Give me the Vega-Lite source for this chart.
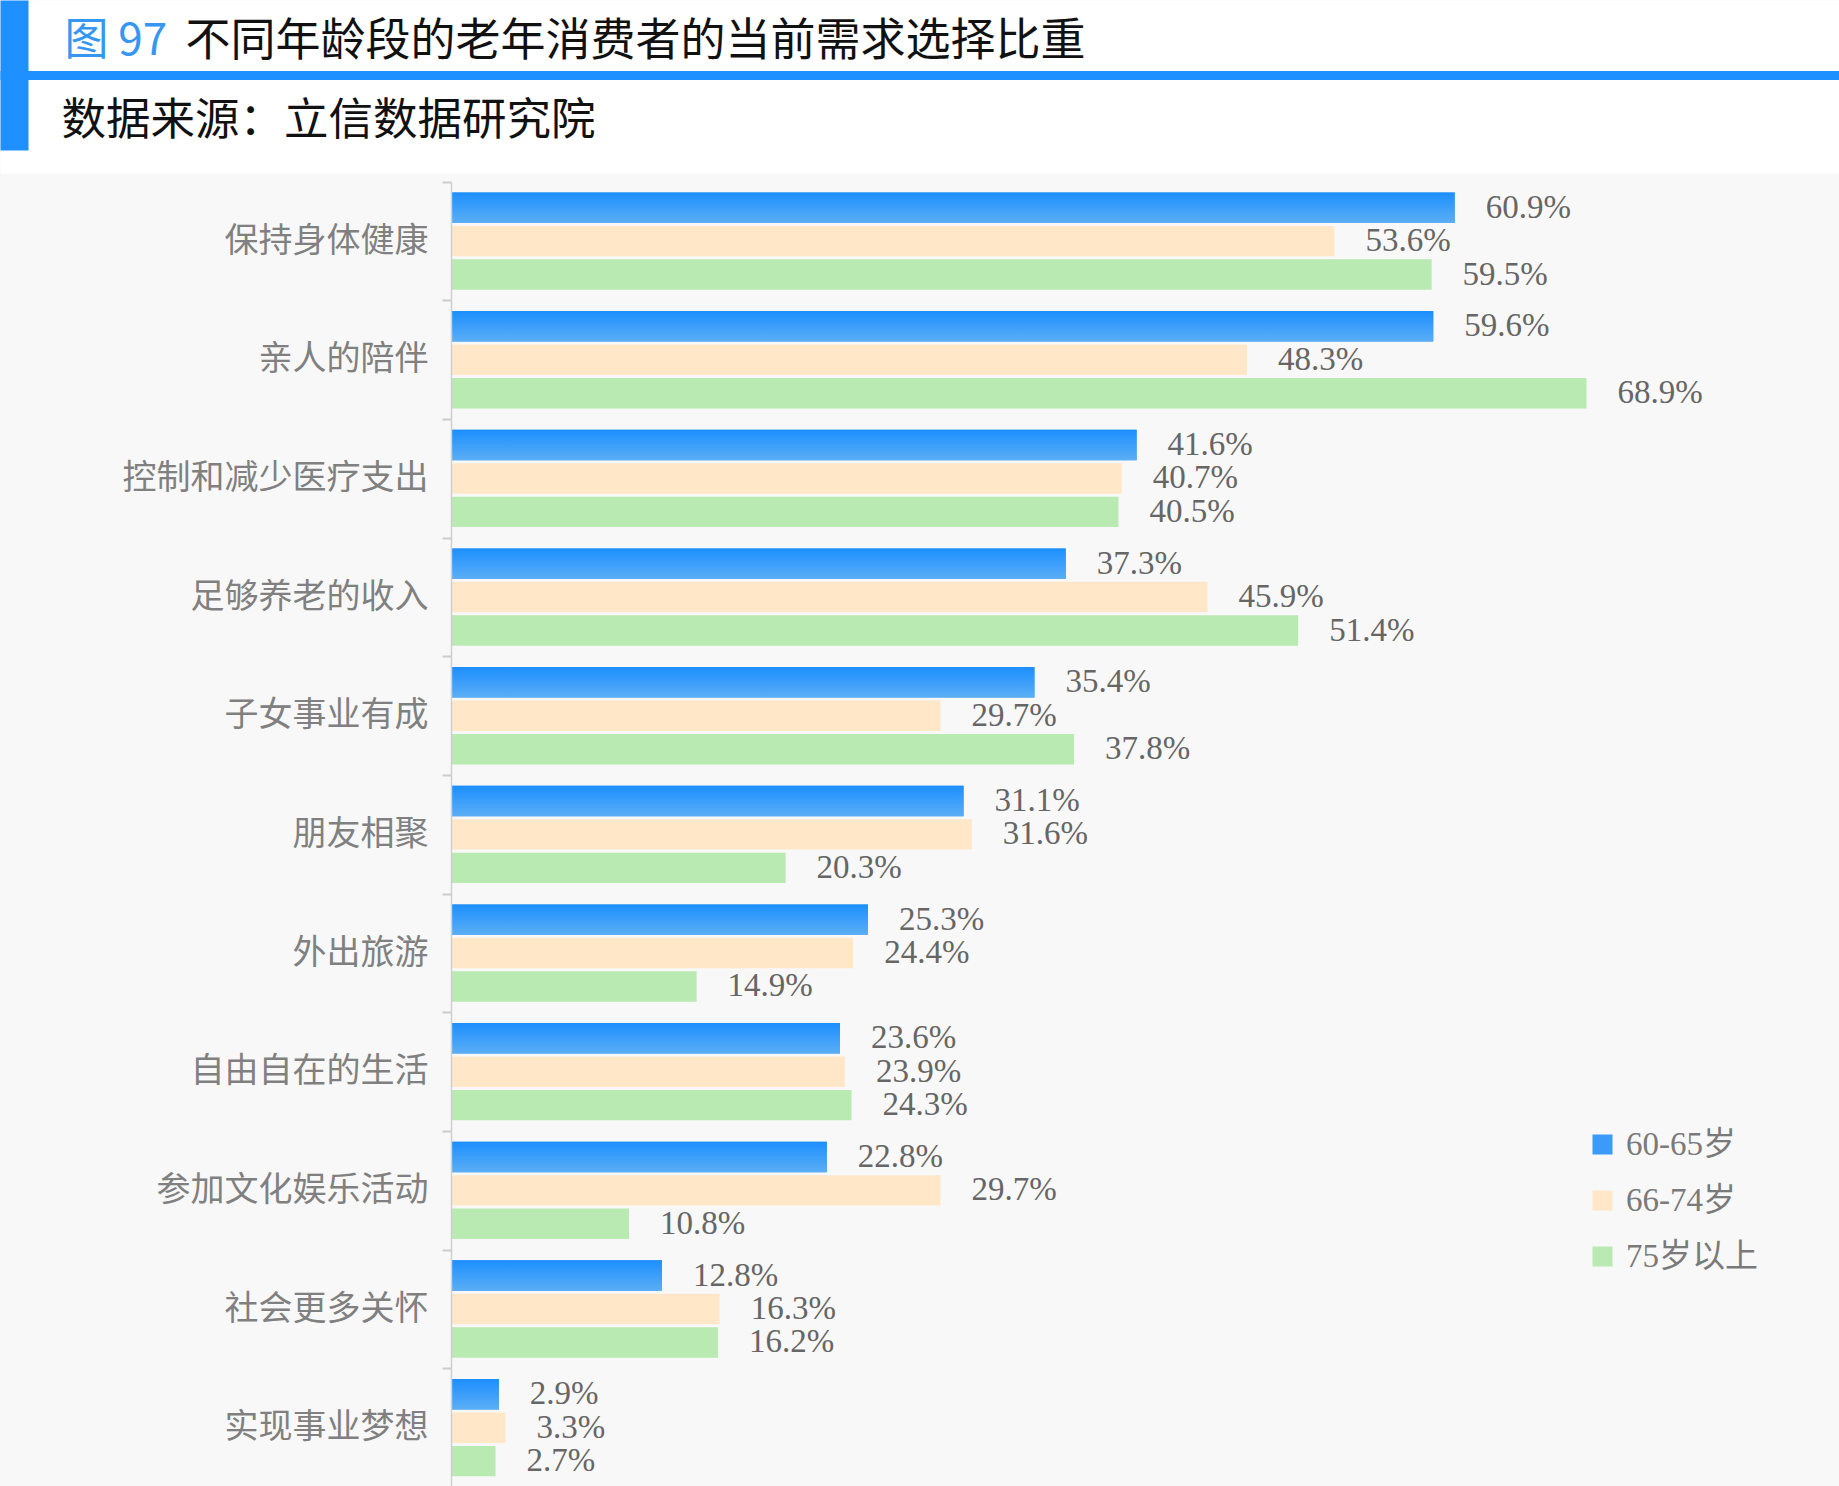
{
  "$schema": "https://vega.github.io/schema/vega-lite/v6.json",
  "autosize": {"type": "none"},
  "padding": 0,
  "width": 1839,
  "height": 1486,
  "background": "#F8F8F8",
  "config": {"view": {"stroke": null}},
  "data": {
    "values": [
      {"cat": "保持身体健康", "group": "60-65岁", "value": 0.609},
      {"cat": "保持身体健康", "group": "66-74岁", "value": 0.536},
      {"cat": "保持身体健康", "group": "75岁以上", "value": 0.595},
      {"cat": "亲人的陪伴", "group": "60-65岁", "value": 0.596},
      {"cat": "亲人的陪伴", "group": "66-74岁", "value": 0.483},
      {"cat": "亲人的陪伴", "group": "75岁以上", "value": 0.689},
      {"cat": "控制和减少医疗支出", "group": "60-65岁", "value": 0.416},
      {"cat": "控制和减少医疗支出", "group": "66-74岁", "value": 0.407},
      {"cat": "控制和减少医疗支出", "group": "75岁以上", "value": 0.405},
      {"cat": "足够养老的收入", "group": "60-65岁", "value": 0.373},
      {"cat": "足够养老的收入", "group": "66-74岁", "value": 0.459},
      {"cat": "足够养老的收入", "group": "75岁以上", "value": 0.514},
      {"cat": "子女事业有成", "group": "60-65岁", "value": 0.354},
      {"cat": "子女事业有成", "group": "66-74岁", "value": 0.297},
      {"cat": "子女事业有成", "group": "75岁以上", "value": 0.378},
      {"cat": "朋友相聚", "group": "60-65岁", "value": 0.311},
      {"cat": "朋友相聚", "group": "66-74岁", "value": 0.316},
      {"cat": "朋友相聚", "group": "75岁以上", "value": 0.203},
      {"cat": "外出旅游", "group": "60-65岁", "value": 0.253},
      {"cat": "外出旅游", "group": "66-74岁", "value": 0.244},
      {"cat": "外出旅游", "group": "75岁以上", "value": 0.149},
      {"cat": "自由自在的生活", "group": "60-65岁", "value": 0.236},
      {"cat": "自由自在的生活", "group": "66-74岁", "value": 0.239},
      {"cat": "自由自在的生活", "group": "75岁以上", "value": 0.243},
      {"cat": "参加文化娱乐活动", "group": "60-65岁", "value": 0.228},
      {"cat": "参加文化娱乐活动", "group": "66-74岁", "value": 0.297},
      {"cat": "参加文化娱乐活动", "group": "75岁以上", "value": 0.108},
      {"cat": "社会更多关怀", "group": "60-65岁", "value": 0.128},
      {"cat": "社会更多关怀", "group": "66-74岁", "value": 0.163},
      {"cat": "社会更多关怀", "group": "75岁以上", "value": 0.162},
      {"cat": "实现事业梦想", "group": "60-65岁", "value": 0.029},
      {"cat": "实现事业梦想", "group": "66-74岁", "value": 0.033},
      {"cat": "实现事业梦想", "group": "75岁以上", "value": 0.027}
    ]
  },
  "encoding": {
    "y": {
      "field": "cat",
      "type": "nominal",
      "sort": ["保持身体健康", "亲人的陪伴", "控制和减少医疗支出", "足够养老的收入", "子女事业有成", "朋友相聚", "外出旅游", "自由自在的生活", "参加文化娱乐活动", "社会更多关怀", "实现事业梦想"],
      "scale": {"range": [181.8, 1487], "paddingInner": 0, "paddingOuter": 0},
      "axis": {
        "orient": "left",
        "offset": -451,
        "domainColor": "#CFCFCF",
        "domainWidth": 1.5,
        "tickBand": "extent",
        "tickSize": 9,
        "tickWidth": 2,
        "tickColor": "#CCCCCC",
        "labelFont": "Noto Sans CJK SC",
        "labelFontSize": 34,
        "labelColor": "#808080",
        "labelPadding": 14,
        "labelLimit": 0,
        "grid": false,
        "title": "数据来源：立信数据研究院",
        "titleAngle": 0,
        "titleX": -390,
        "titleY": 121,
        "titleAlign": "left",
        "titleBaseline": "middle",
        "titleFont": "Noto Sans CJK SC",
        "titleFontSize": 44.5,
        "titleFontWeight": "normal",
        "titleColor": "#111111",
        "zindex": 1
      }
    },
    "yOffset": {
      "field": "group",
      "type": "nominal",
      "scale": {"domain": ["60-65岁", "66-74岁", "75岁以上"], "paddingInner": 0.09, "paddingOuter": 0.319}
    }
  },
  "layer": [
    {
      "mark": {"type": "bar"},
      "encoding": {
        "x": {
          "field": "value",
          "type": "quantitative",
          "scale": {"domain": [-0.2737, 0.8422], "nice": false, "zero": false},
          "axis": {
            "orient": "top",
            "offset": -75,
            "domain": true,
            "domainColor": "#1E90FF",
            "domainWidth": 9,
            "values": [-0.2652],
            "ticks": true,
            "tickSize": 75,
            "tickWidth": 28,
            "tickColor": "#1E90FF",
            "labels": false,
            "grid": false,
            "title": "图 97",
            "titleX": 64,
            "titleY": -34,
            "titleAlign": "left",
            "titleBaseline": "middle",
            "titleFont": "Noto Sans CJK SC",
            "titleFontSize": 44,
            "titleFontWeight": "normal",
            "titleColor": "#3597F2",
            "zindex": 1
          }
        },
        "x2": {"datum": 0},
        "color": {
          "field": "group",
          "type": "nominal",
          "scale": {"domain": ["60-65岁", "66-74岁", "75岁以上"], "range": ["#3A9BF8", "#FFE7C7", "#B8EAB2"]},
          "legend": {
            "orient": "none",
            "legendX": 1586,
            "legendY": 1128,
            "padding": 0,
            "title": null,
            "symbolType": "square",
            "symbolSize": 400,
            "symbolStrokeWidth": 0,
            "labelFont": "Liberation Serif, Noto Sans CJK SC",
            "labelFontSize": 33,
            "labelColor": "#7A7A7A",
            "labelOffset": 7,
            "rowPadding": 22
          }
        }
      }
    },
    {
      "transform": [{"filter": "datum.group === '60-65岁'"}],
      "mark": {
        "type": "bar",
        "color": {
          "gradient": "linear",
          "x1": 0, "y1": 0, "x2": 0, "y2": 1,
          "stops": [{"offset": 0, "color": "#1C8FFF"}, {"offset": 1, "color": "#5BAEF5"}]
        }
      },
      "encoding": {
        "x": {
          "field": "value",
          "type": "quantitative",
          "axis": {
            "orient": "top",
            "offset": -86.5,
            "domain": true,
            "domainColor": "#FFFFFF",
            "domainWidth": 173,
            "ticks": false,
            "labels": false,
            "grid": false,
            "title": null,
            "zindex": 0
          }
        },
        "x2": {"datum": 0}
      }
    },
    {
      "mark": {
        "type": "text",
        "align": "left",
        "baseline": "middle",
        "dx": 31,
        "font": "Liberation Serif",
        "fontSize": 33,
        "color": "#666666"
      },
      "encoding": {
        "x": {
          "field": "value",
          "type": "quantitative",
          "axis": {
            "orient": "top",
            "offset": -75,
            "domain": false,
            "values": [-0.2652],
            "ticks": true,
            "tickSize": -75,
            "tickWidth": 28,
            "tickColor": "#1E90FF",
            "labels": false,
            "grid": false,
            "title": "不同年龄段的老年消费者的当前需求选择比重",
            "titleX": 185,
            "titleY": -34,
            "titleAlign": "left",
            "titleBaseline": "middle",
            "titleFont": "Noto Sans CJK SC",
            "titleFontSize": 45,
            "titleFontWeight": "normal",
            "titleColor": "#111111",
            "zindex": 1
          }
        },
        "text": {"field": "value", "type": "quantitative", "format": ".1%"}
      }
    }
  ],
  "resolve": {"axis": {"x": "independent"}}
}
